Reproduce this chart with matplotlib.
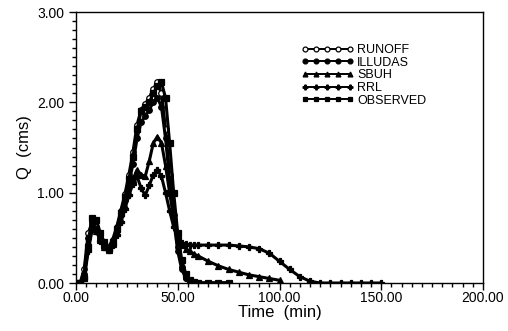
import matplotlib
matplotlib.use("Agg")
import matplotlib.pyplot as plt
from matplotlib.ticker import MultipleLocator, FormatStrFormatter

# time axis shared by the rising limb (2 min steps)
t_main = [0, 2, 4, 6, 8, 10, 12, 14, 16, 18, 20, 22, 24, 26, 28, 30,
          32, 34, 36, 38, 40, 42, 44, 46, 48, 50, 52, 54, 56, 58, 60]

runoff = [0, 0, 0.15, 0.55, 0.68, 0.62, 0.50, 0.42, 0.40, 0.48, 0.62, 0.80,
          0.98, 1.20, 1.45, 1.75, 1.92, 1.98, 2.05, 2.15, 2.22, 2.10, 1.70,
          1.20, 0.75, 0.40, 0.18, 0.06, 0.02, 0.01, 0]
illudas = [0, 0, 0.10, 0.50, 0.65, 0.60, 0.48, 0.40, 0.38, 0.45, 0.58, 0.75,
           0.92, 1.10, 1.32, 1.60, 1.78, 1.85, 1.92, 2.00, 2.05, 1.95, 1.60,
           1.15, 0.70, 0.35, 0.15, 0.05, 0.02, 0, 0]
sbuh = [0, 0, 0.08, 0.45, 0.62, 0.58, 0.48, 0.40, 0.37, 0.43, 0.55, 0.70,
        0.85, 1.00, 1.15, 1.25, 1.20, 1.18, 1.35, 1.55, 1.62, 1.55, 1.30,
        1.00, 0.72, 0.52, 0.42, 0.38, 0.35, 0.32, 0.30]
rrl = [0, 0, 0.05, 0.35, 0.60, 0.58, 0.47, 0.40, 0.36, 0.42, 0.53, 0.67,
       0.82, 0.97, 1.10, 1.18, 1.05, 0.97, 1.08, 1.20, 1.25, 1.18, 1.00,
       0.80, 0.62, 0.50, 0.44, 0.43, 0.42, 0.42, 0.42]
observed = [0, 0, 0.05, 0.40, 0.72, 0.70, 0.55, 0.45, 0.38, 0.45, 0.60, 0.78,
            0.95, 1.15, 1.40, 1.70, 1.90, 1.95, 2.00, 2.10, 2.18, 2.22, 2.05,
            1.55, 1.00, 0.55, 0.25, 0.10, 0.03, 0.01, 0]

# recession tails (5 min steps)
t_tail_short = [65, 70, 75]
tail_short = [0, 0, 0]
t_tail_sbuh = [65, 70, 75, 80, 85, 90, 95, 100]
tail_sbuh = [0.24, 0.19, 0.15, 0.12, 0.09, 0.07, 0.05, 0.03]
t_tail_rrl = [65, 70, 75, 80, 85, 90, 95, 100, 105, 110, 115, 120, 125,
              130, 135, 140, 145, 150]
tail_rrl = [0.42, 0.42, 0.42, 0.41, 0.40, 0.38, 0.33, 0.24, 0.15, 0.07,
            0.02, 0, 0, 0, 0, 0, 0, 0]

plt.rcParams["font.family"] = ["Liberation Sans", "DejaVu Sans"]

fig = plt.figure(figsize=(5.08, 3.31), dpi=100)
ax = fig.add_axes([0.1496, 0.145, 0.8012, 0.8187])

series = [
    ("RUNOFF", runoff, t_tail_short, tail_short, dict(marker="o", mfc="white")),
    ("ILLUDAS", illudas, t_tail_short, tail_short, dict(marker="o", mfc="black")),
    ("SBUH", sbuh, t_tail_sbuh, tail_sbuh, dict(marker="^", mfc="black")),
    ("RRL", rrl, t_tail_rrl, tail_rrl, dict(marker="P", mfc="black")),
    ("OBSERVED", observed, t_tail_short, tail_short, dict(marker="s", mfc="black")),
]
for name, q, tt, qt, style in series:
    ax.plot(t_main + tt, q + qt, color="black", lw=2.2, ms=4,
            mec="black", mew=0.9, label=name, **style)

ax.set_xlim(0, 200)
ax.set_ylim(0, 3)
ax.xaxis.set_major_locator(MultipleLocator(50))
ax.xaxis.set_minor_locator(MultipleLocator(5))
ax.yaxis.set_major_locator(MultipleLocator(1))
ax.yaxis.set_minor_locator(MultipleLocator(0.1))
ax.xaxis.set_major_formatter(FormatStrFormatter("%.2f"))
ax.yaxis.set_major_formatter(FormatStrFormatter("%.2f"))
ax.tick_params(which="both", direction="out", labelsize=10, width=1)
ax.tick_params(which="major", length=5)
ax.tick_params(which="minor", length=3)
ax.tick_params(axis="x", pad=1)
for s in ax.spines.values():
    s.set_linewidth(1)

ax.set_xlabel("Time  (min)", fontsize=12, labelpad=0)
ax.set_ylabel("Q  (cms)", fontsize=12, labelpad=4)

leg = ax.legend(loc="upper left", bbox_to_anchor=(0.54, 0.9), frameon=False,
                fontsize=9, numpoints=5, handlelength=4.2, handletextpad=0.3,
                labelspacing=0.05, borderaxespad=0)
for h in leg.legend_handles:
    h.set_linewidth(1.4)
    h.set_markersize(3.5)

fig.savefig("out.png", dpi=100)
